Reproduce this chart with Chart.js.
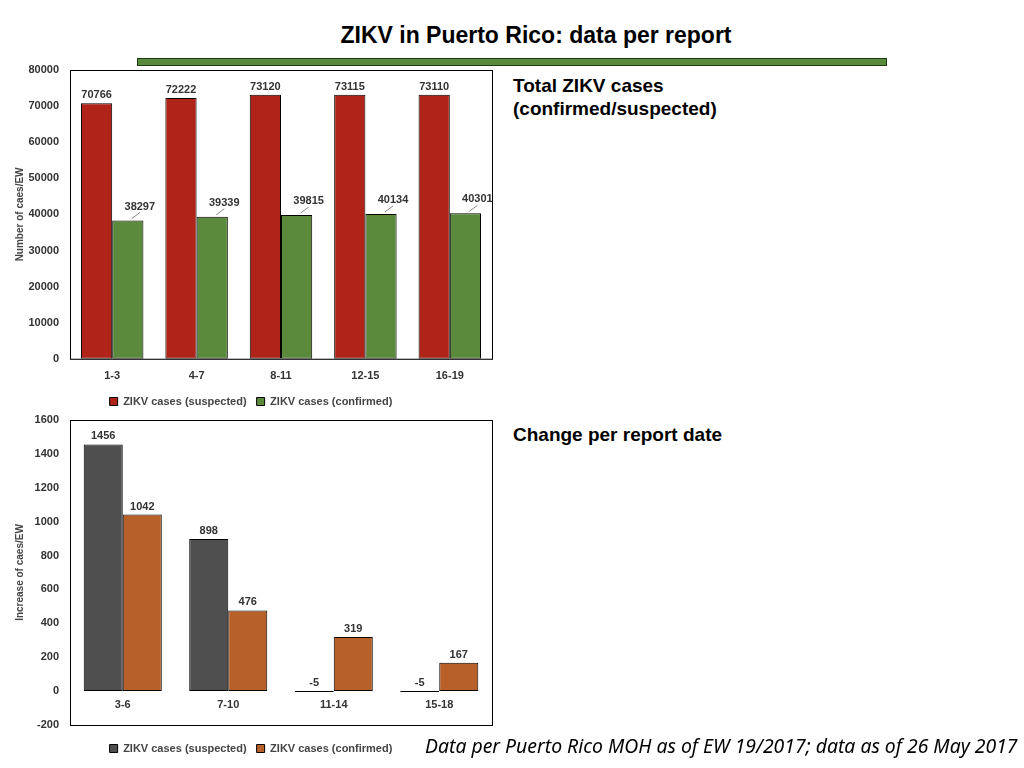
<!DOCTYPE html>
<html><head><meta charset="utf-8">
<script src="https://cdn.jsdelivr.net/npm/chart.js@4"></script>
<style>
body{margin:0;width:1024px;height:768px;background:#fff;font-family:"Liberation Sans",Arial,sans-serif;position:relative;overflow:hidden}
#title{position:absolute;top:22px;left:0;width:1072px;text-align:center;font-weight:bold;font-size:23px}
#bar{position:absolute;left:137px;top:58px;width:748px;height:6px;background:#5A8A3C;border:1px solid #1d3a12}
.note{position:absolute;left:513px;font-weight:bold;font-size:19px;line-height:23px}
#foot{position:absolute;left:425px;top:732px;font-style:italic;font-size:19.4px;font-family:"Noto Sans",sans-serif;white-space:nowrap}
.c{position:absolute;left:10px;width:490px}
</style></head><body>
<div id="title">ZIKV in Puerto Rico: data per report</div>
<div id="bar"></div>
<div class="note" style="top:74px">Total ZIKV cases<br>(confirmed/suspected)</div>
<div class="note" style="top:423px">Change per report date</div>
<div class="c" style="top:60px;height:357px"><canvas id="c1"></canvas></div>
<div class="c" style="top:410px;height:354px"><canvas id="c2"></canvas></div>
<div id="foot">Data per Puerto Rico MOH as of EW 19/2017; data as of 26 May 2017</div>
<script>
const totalLabels = ["1-3", "4-7", "8-11", "12-15", "16-19"];
const totalSuspected = [70766, 72222, 73120, 73115, 73110];
const totalConfirmed = [38297, 39339, 39815, 40134, 40301];
const changeLabels = ["3-6", "7-10", "11-14", "15-18"];
const changeSuspected = [1456, 898, -5, -5];
const changeConfirmed = [1042, 476, 319, 167];

const F = "'Liberation Sans', Arial, sans-serif";
const boxPlugin = {
  id: "box",
  afterDraw(chart) {
    const a = chart.chartArea, ctx = chart.ctx;
    ctx.save(); ctx.strokeStyle = "#000"; ctx.lineWidth = 1;
    ctx.strokeRect(a.left + 0.5, a.top + 0.5, a.right - a.left, a.bottom - a.top);
    ctx.font = "bold 11px " + F; ctx.fillStyle = "#333"; ctx.textAlign = "center";
    chart.data.datasets.forEach((ds, i) => {
      chart.getDatasetMeta(i).data.forEach((bar, j) => {
        const v = ds.data[j];
        let x = bar.x, y = Math.min(bar.y, bar.base) - 8;
        if (chart.options.leader && i === 1) {
          ctx.strokeStyle = "#888";
          ctx.beginPath(); ctx.moveTo(bar.x + 4, bar.y - 2); ctx.lineTo(bar.x + 12, bar.y - 8); ctx.stroke();
          x = bar.x + 12; y = bar.y - 14;
        }
        ctx.fillText(v, x, y);
      });
    });
    if (chart.options.zeroLabels) {
      const xs = chart.scales.x, y0 = chart.scales.y.getPixelForValue(0);
      ctx.textBaseline = "top";
      chart.data.labels.forEach((l, k) => ctx.fillText(l, xs.getPixelForTick(k), y0 + 8));
    }
    ctx.restore();
  }
};

const tickFont = { family: F, size: 11, weight: "bold" };
function make(id, labels, s1, s2, c1, c2, min, max, step, leader, yTitle) {
  return new Chart(document.getElementById(id), {
    type: "bar",
    data: { labels: labels, datasets: [
      { label: "ZIKV cases (suspected)", data: s1, backgroundColor: c1, borderColor: "#000", borderWidth: 1, borderSkipped: false, categoryPercentage: 0.74, barPercentage: 1 },
      { label: "ZIKV cases (confirmed)", data: s2, backgroundColor: c2, borderColor: "#000", borderWidth: 1, borderSkipped: false, categoryPercentage: 0.74, barPercentage: 1 }
    ]},
    options: {
      leader: leader,
      zeroLabels: !leader,
      responsive: true, maintainAspectRatio: false, animation: false,
      layout: { padding: { top: 10, right: 8 } },
      plugins: {
        legend: { position: "bottom", labels: { boxWidth: 8, boxHeight: 8, font: tickFont, color: "#444" } },
        tooltip: { enabled: false }
      },
      scales: {
        x: { grid: { display: false }, ticks: { display: leader, font: tickFont, color: "#333" } },
        y: {
          min: min, max: max,
          grid: { display: false },
          afterFit: s => { s.width = 60; },
          title: { display: true, text: yTitle, font: { family: F, size: 10, weight: "bold" }, color: "#444" },
          ticks: { stepSize: step, font: tickFont, color: "#333", callback: v => String(v) }
        }
      }
    },
    plugins: [boxPlugin]
  });
}

make("c1", totalLabels, totalSuspected, totalConfirmed, "#B02318", "#5B8A3C", 0, 80000, 10000, true, "Number of caes/EW");
make("c2", changeLabels, changeSuspected, changeConfirmed, "#4F4F4F", "#B8602A", -200, 1600, 200, false, "Increase of caes/EW");
</script>
</body></html>
